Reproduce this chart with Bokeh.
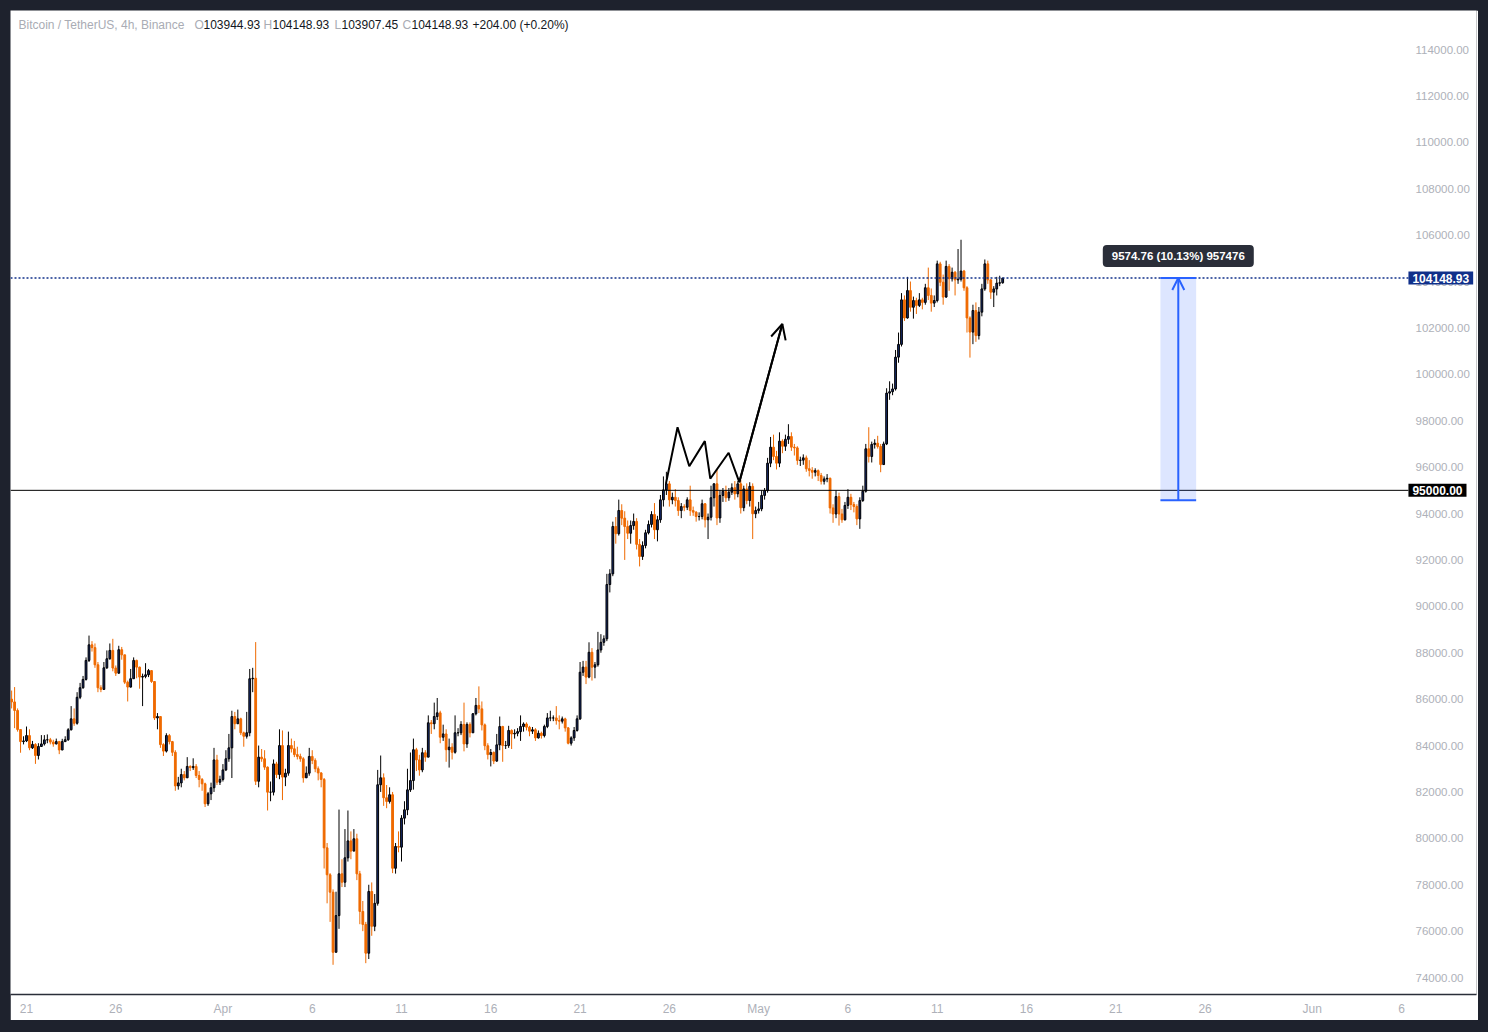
import pandas as pd
from bokeh.plotting import figure
from bokeh.models import (Range1d, FixedTicker, NumeralTickFormatter, Label,
                          Arrow, OpenHead, ColumnDataSource)
from bokeh.embed import file_html
from bokeh.resources import INLINE

# ---------------- data ----------------
symbol_title = "Bitcoin / TetherUS, 4h, Binance"
first_time = "2025-03-20 04:00"
first_open = 86000
closes = [
    85880, 85510, 84690, 84170, 84200, 84430, 83900, 84050, 83570, 83960,
    84070, 84245, 84250, 84150, 84070, 84170, 83810, 84170, 84250, 84680,
    85150, 84960, 86080, 86490, 86850, 87670, 88340, 88220, 87480, 86490,
    86420, 87350, 87740, 88100, 87340, 87120, 88130, 87910, 86730, 86520,
    86880, 87670, 87380, 86950, 86980, 87050, 87230, 86760, 85190, 85250,
    84040, 83760, 84430, 84170, 83710, 82260, 82390, 82750, 82610, 83100,
    83050, 83100, 82710, 82540, 82350, 81490, 81920, 82180, 83380, 82420,
    82540, 82950, 83430, 83900, 85250, 84940, 85150, 84550, 84400, 84550,
    86880, 86900, 82460, 83500, 83430, 83070, 81990, 81990, 83210, 82750,
    84000, 82640, 82810, 84000, 83860, 83610, 83530, 83430, 82610, 82810,
    83530, 83360, 83000, 82820, 82540, 79590, 78430, 77680, 75090, 76670,
    78470, 78110, 79160, 79890, 79450, 79980, 78470, 76850, 76290, 75050,
    77710, 76210, 77200, 82310, 82610, 81750, 81590, 81880, 78710, 79650,
    79620, 80870, 81230, 82090, 82490, 83820, 83380, 82950, 83690, 83500,
    84980, 84940, 85250, 85410, 84360, 84500, 83820, 83930, 83710, 84550,
    84550, 84910, 84070, 84910, 84550, 85370, 85730, 85580, 84890, 83990,
    83610, 83700, 83330, 84030, 84820, 84000, 84000, 84650, 84500, 84530,
    84600, 84820, 84930, 84790, 84620, 84680, 84330, 84530, 84430, 84820,
    85190, 85190, 85190, 85080, 85050, 85150, 84760, 84100, 84330, 84650,
    85150, 87160, 87380, 86950, 88020, 87380, 87480, 88120, 88450, 88600,
    90940, 91400, 93440, 93130, 94130, 93800, 93440, 93150, 93480, 93660,
    92670, 92150, 92620, 93170, 93530, 93960, 93300, 93730, 94590, 95020,
    95280, 94590, 94700, 94560, 94130, 94300, 94270, 94590, 94130, 94060,
    93870, 93870, 94420, 93730, 93840, 94680, 95280, 93810, 94780, 94960,
    94680, 94920, 95110, 94850, 95280, 94250, 95060, 94560, 95170, 93990,
    94130, 94200, 94780, 94990, 96170, 96860, 96460, 96170, 97120, 96900,
    97200, 97320, 96860, 96830, 96290, 96300, 96400, 95930, 95860, 95780,
    95850, 95640, 95390, 95490, 95520, 94240, 93980, 94730, 93980, 93730,
    94350, 94700, 94390, 94300, 93770, 94560, 94960, 96790, 96460, 96980,
    97030, 96890, 96110, 97000, 99190, 99250, 99370, 100740, 101290, 103210,
    102430, 103610, 102890, 103180, 102970, 103210, 103100, 103730, 103400, 103070,
    103180, 104760, 103970, 103330, 104650, 104120, 104400, 104070, 104100, 104450,
    103730, 102430, 101820, 102750, 101670, 102680, 103680, 104760, 104070, 103540,
    103680, 103930, 103944.93, 104148.93,
]
highs = [
    86370, 86520, 85600, 84700, 84400, 84820, 84700, 84200, 84100, 84100,
    84450, 84450, 84480, 84330, 84250, 84300, 84200, 84290, 84400, 84750,
    85700, 85600, 86300, 86700, 87000, 87800, 88740, 88500, 88400, 87600,
    86600, 87600, 88100, 88400, 88600, 87450, 88300, 88250, 87900, 86800,
    87300, 87800, 87700, 87400, 87100, 87550, 87300, 87250, 86760, 85400,
    85250, 84100, 84530, 84500, 84200, 83800, 82650, 83000, 82900, 83500,
    83150, 83450, 83200, 82900, 82600, 82400, 82000, 82400, 83900, 83600,
    82700, 83200, 83800, 84500, 85500, 85450, 85550, 85200, 84600, 85450,
    87300, 87350, 88460, 84000, 83850, 83800, 83100, 82450, 83400, 83300,
    84700, 84650, 83000, 84600, 84300, 84200, 83950, 83650, 83500, 83100,
    83900, 83800, 83450, 83100, 82850, 82600, 79800, 78500, 77800, 77700,
    81240, 79100, 80400, 81200, 80300, 80400, 80200, 78600, 77300, 76400,
    78000, 78100, 77600, 82950, 83570, 82800, 82300, 82200, 82000, 79800,
    80300, 81000, 81600, 83000, 83700, 84300, 83900, 83600, 83900, 83800,
    85300, 85100, 85850, 86050, 85500, 84900, 84700, 84300, 84100, 85300,
    84750, 85050, 85850, 85000, 85000, 85400, 86050, 86550, 85900, 84950,
    84100, 83850, 83750, 84500, 85250, 84850, 84200, 84850, 84700, 84700,
    84750, 85300, 85000, 85000, 84850, 84800, 84750, 84650, 84600, 84900,
    85400, 85500, 85300, 85700, 85300, 85250, 85200, 84800, 84400, 84800,
    85300, 87600, 87650, 87650, 88450, 88200, 87600, 88900, 88800, 88750,
    91400, 91600, 93650, 93850, 94600, 94400, 94100, 93700, 93700, 94000,
    93800, 92900, 92800, 93300, 93700, 94100, 94450, 93900, 94800, 95600,
    95800, 95400, 94900, 95050, 94700, 94450, 94400, 94700, 95200, 94300,
    94100, 94050, 94600, 94450, 94000, 95200, 95300, 95900, 95000, 95100,
    95200, 95100, 95300, 95400, 95400, 95450, 95200, 95300, 95350, 95300,
    94300, 94500, 95000, 95100, 96400, 97300, 97400, 96700, 97500, 97200,
    97400, 97850, 97500, 97000, 96900, 96450, 96550, 96500, 96300, 96000,
    95950, 95900, 95750, 95600, 95700, 95550, 94400, 95000, 94900, 94200,
    94500, 95050, 94850, 94500, 94400, 94700, 95200, 97000, 97720, 97100,
    97200, 97350, 97000, 97100, 99400, 99700, 99600, 101050, 101800, 103500,
    103400, 104200, 104000, 103350, 103300, 103500, 103300, 103900, 104600, 103700,
    103400, 104900, 104850, 104300, 104900, 104750, 104600, 104450, 105400, 105800,
    104500, 103800, 102500, 103000, 103100, 102900, 103900, 104950, 104900, 104100,
    103800, 104200, 104250, 104148.93,
]
lows = [
    85600, 84750, 84600, 83690, 84050, 84150, 83800, 83850, 83210, 83400,
    83950, 84000, 84100, 84050, 83950, 84050, 83630, 83800, 84150, 84200,
    84650, 84850, 84900, 86000, 86450, 86800, 87600, 88050, 87350, 86300,
    86300, 86400, 87300, 87700, 87200, 87000, 87100, 87700, 86650, 85900,
    86500, 86900, 86900, 86450, 85700, 86900, 86950, 86700, 85100, 84700,
    83900, 83550, 83700, 84050, 83550, 82050, 82100, 82200, 82500, 82600,
    82900, 82950, 82600, 82200, 82050, 81350, 81400, 81650, 82000, 82300,
    82300, 82450, 82900, 83300, 82600, 84700, 84950, 84450, 83950, 84300,
    84400, 86300, 82300, 82200, 83300, 82950, 81200, 81600, 81850, 82600,
    82550, 81650, 82250, 82700, 83700, 83500, 83400, 83300, 82400, 82600,
    82700, 83200, 82850, 82500, 82200, 78700, 77200, 76400, 74550, 75600,
    76100, 77900, 77900, 79000, 79100, 79500, 78200, 76300, 76000, 74620,
    74800, 75800, 76000, 77100, 82000, 81400, 81300, 81500, 78500, 78480,
    79400, 79000, 80600, 81000, 82000, 82100, 82900, 82700, 82850, 83300,
    83500, 84500, 84700, 85100, 84100, 84200, 83300, 83050, 83400, 83650,
    84400, 84450, 83750, 83900, 84350, 84550, 85300, 85400, 84650, 83800,
    83400, 83100, 83200, 83300, 83800, 83300, 83850, 83900, 83850, 84300,
    84400, 84200, 84600, 84650, 84400, 84500, 84200, 84300, 84300, 84350,
    84750, 85050, 85050, 84900, 84700, 84950, 84600, 84050, 84000, 84200,
    84600, 85100, 87000, 86650, 86900, 86800, 86900, 87400, 88000, 88300,
    88500, 90600, 91300, 92700, 93050, 93500, 92000, 92900, 92700, 93300,
    92450, 91720, 92000, 92500, 93100, 93400, 92900, 92800, 93600, 94300,
    94800, 94300, 94400, 94300, 93900, 93800, 94100, 94150, 93900, 93900,
    93650, 93700, 93750, 93400, 92900, 93700, 94300, 93500, 93600, 94500,
    94500, 94550, 94800, 94600, 94700, 94000, 94100, 94400, 94300, 92900,
    93800, 94000, 94100, 94600, 94900, 96000, 96300, 95900, 96000, 96600,
    96700, 97000, 96700, 96500, 96100, 96050, 96100, 95800, 95600, 95500,
    95600, 95400, 95250, 95250, 95350, 94000, 93600, 93800, 93480, 93600,
    93700, 94200, 94150, 94050, 93500, 93340, 94500, 94900, 96200, 96200,
    96800, 96800, 95780, 96100, 96950, 98900, 99100, 99300, 100500, 101200,
    102300, 102400, 102700, 102400, 102600, 102900, 102800, 103000, 103200, 102700,
    102900, 103100, 103800, 103000, 103300, 103600, 104000, 103400, 103900, 104000,
    103600, 101800, 100720, 101300, 101400, 101500, 102500, 103600, 103900, 103250,
    102900, 103400, 103800, 103907.45,
]
level_price = 95000.0
meas_change = 9574.76
meas_pct = 10.13
meas_ticks = 957476
meas_left = "2025-05-23 12:00"
meas_right = "2025-05-25 12:00"
zigzag_times = ["2025-04-25 19:20", "2025-04-26 11:00", "2025-04-27 02:45", "2025-04-27 23:40",
                "2025-04-28 07:00", "2025-04-29 07:40", "2025-04-29 22:00"]
zigzag_prices = [95280, 97720, 96040, 97120, 95500, 96620, 95350]
arrow_tip_time = "2025-05-02 07:50"
arrow_tip_price = 102170
xtick_dates = ["2025-03-21", "2025-03-26", "2025-04-01", "2025-04-06", "2025-04-11", "2025-04-16",
               "2025-04-21", "2025-04-26", "2025-05-01", "2025-05-06", "2025-05-11", "2025-05-16",
               "2025-05-21", "2025-05-26", "2025-06-01", "2025-06-06"]
xtick_labels = ["21", "26", "Apr", "6", "11", "16", "21", "26", "May", "6", "11", "16", "21", "26", "Jun", "6"]
ytick_values = [74000, 76000, 78000, 80000, 82000, 84000, 86000, 88000, 90000, 92000, 94000,
                96000, 98000, 100000, 102000, 104000, 106000, 108000, 110000, 112000, 114000]

# ---------------- styles / layout ----------------
UP_FILL = "#172c6e"
UP_LINE = "#000000"
DN_FILL = "#ef6a00"
DN_LINE = "#ef6a00"
AX_TXT = "#aeb1b9"
FONT = "Liberation Sans"
BLUE = "#2962ff"
NAVY = "#10308a"
VIEW_START = "2025-03-20 02:29"
VIEW_END = "2025-06-10 04:48"
PANE_END = "2025-06-06 09:20"   # where the price scale begins


def ms(ts):
    return pd.Timestamp(ts).value / 1e6


times = pd.date_range(first_time, periods=len(closes), freq="4h")
xs = [t.value / 1e6 for t in times]
opens = [first_open] + closes[:-1]
period = 4 * 3600 * 1000

up = dict(x=[], top=[], bottom=[], h=[], l=[])
dn = dict(x=[], top=[], bottom=[], h=[], l=[])
for x, o, h, l, c in zip(xs, opens, highs, lows, closes):
    d = up if c >= o else dn
    d["x"].append(x)
    d["top"].append(max(o, c))
    d["bottom"].append(min(o, c))
    d["h"].append(max(h, o, c))
    d["l"].append(min(l, o, c))

p = figure(width=1468, height=1010, x_axis_type="datetime", y_axis_location="right",
           x_range=Range1d(ms(VIEW_START), ms(VIEW_END)),
           y_range=Range1d(73270, 115681),
           output_backend="svg", toolbar_location=None, title=None,
           min_border=0)
p.min_border_right = 2
p.min_border_bottom = 26
p.margin = (10, 10, 10, 10)
p.background_fill_color = "white"
p.border_fill_color = "white"
p.outline_line_color = None
p.xgrid.visible = False
p.ygrid.visible = False

# x axis
p.xaxis.ticker = FixedTicker(ticks=[ms(d) for d in xtick_dates])
p.xaxis.major_label_overrides = {ms(d): lab for d, lab in zip(xtick_dates, xtick_labels)}
p.xaxis.axis_line_color = "#2a2e39"
p.xaxis.axis_line_width = 1.5
p.xaxis.major_tick_line_color = None
p.xaxis.minor_tick_line_color = None
p.xaxis.major_label_text_color = AX_TXT
p.xaxis.major_label_text_font = FONT
p.xaxis.major_label_text_font_size = "12px"
p.xaxis.major_label_standoff = 1

# y axis (labels drawn inside the price-scale strip)
p.yaxis.ticker = FixedTicker(ticks=ytick_values)
p.yaxis.formatter = NumeralTickFormatter(format="0.00")
p.yaxis.axis_line_color = None
p.yaxis.major_tick_line_color = None
p.yaxis.minor_tick_line_color = None
p.yaxis.major_tick_out = 0
p.yaxis.major_label_text_color = AX_TXT
p.yaxis.major_label_text_font = FONT
p.yaxis.major_label_text_font_size = "11.5px"
p.yaxis.major_label_standoff = -61

# candles
src_up = ColumnDataSource(up)
src_dn = ColumnDataSource(dn)
p.segment(x0="x", y0="h", x1="x", y1="l", source=src_up, line_color=UP_LINE, line_width=1)
p.segment(x0="x", y0="h", x1="x", y1="l", source=src_dn, line_color=DN_LINE, line_width=1)
p.vbar(x="x", width=0.6 * period, top="top", bottom="bottom", source=src_up,
       fill_color=UP_FILL, line_color=UP_LINE, line_width=1)
p.vbar(x="x", width=0.6 * period, top="top", bottom="bottom", source=src_dn,
       fill_color=DN_FILL, line_color=DN_LINE, line_width=1)

# horizontal level & last price line (stop where the price scale starts)
last_price = closes[-1]
xa, xb = ms(VIEW_START), ms(PANE_END)
p.segment(x0=[xa], x1=[xb], y0=[level_price], y1=[level_price], line_color="black", line_width=1)
p.segment(x0=[xa], x1=[xb], y0=[last_price], y1=[last_price], line_color=NAVY,
          line_width=1.5, line_dash="2 2")

p.add_layout(Label(x=xb, y=level_price, text=f"{level_price:.2f}", text_color="white",
                   text_font=FONT, text_font_size="12px", text_font_style="bold",
                   text_baseline="middle", text_align="left",
                   background_fill_color="black",
                   padding=dict(left=4, right=4, top=2, bottom=2)))
p.add_layout(Label(x=xb, y=last_price, text=f"{last_price:.2f}", text_color="white",
                   text_font=FONT, text_font_size="12px", text_font_style="bold",
                   text_baseline="middle", text_align="left",
                   background_fill_color=NAVY,
                   padding=dict(left=4, right=4, top=2, bottom=2)))

# hand-drawn zigzag with arrow
zx = [ms(t) for t in zigzag_times]
p.line(zx + [ms(arrow_tip_time)], zigzag_prices + [arrow_tip_price], line_color="black",
       line_width=2)
p.add_layout(Arrow(end=OpenHead(size=15, line_color="black", line_width=2),
                   x_start=zx[-1], y_start=zigzag_prices[-1],
                   x_end=ms(arrow_tip_time), y_end=arrow_tip_price,
                   line_color="black", line_width=2))

# price range measurement
m_top = last_price
m_bot = last_price - meas_change
ml, mr = ms(meas_left), ms(meas_right)
mid = (ml + mr) / 2
p.quad(left=[ml], right=[mr], top=[m_top], bottom=[m_bot], fill_color=BLUE, fill_alpha=0.16,
       line_color=None)
p.segment(x0=[ml, ml], x1=[mr, mr], y0=[m_bot, m_top], y1=[m_bot, m_top], line_color=BLUE,
          line_width=2)
p.add_layout(Arrow(end=OpenHead(size=12, line_color=BLUE, line_width=2),
                   x_start=mid, y_start=m_bot, x_end=mid, y_end=m_top,
                   line_color=BLUE, line_width=2))
p.add_layout(Label(x=mid, y=m_top, y_offset=22,
                   text=f"{meas_change:.2f} ({meas_pct:.2f}%) {meas_ticks}",
                   text_color="white", text_font=FONT, text_font_size="11.5px",
                   text_font_style="bold", text_align="center", text_baseline="middle",
                   background_fill_color="#2a2e39", border_radius=4,
                   padding=dict(left=9, right=9, top=5, bottom=5)))

# header legend
o_l, h_l, l_l, c_l = opens[-1], highs[-1], lows[-1], closes[-1]
chg = c_l - o_l
GRAY_T = "#a9acb4"
DARK_T = "#131722"
header_parts = [
    (symbol_title, GRAY_T, 8),
    ("O", GRAY_T, 184), (f"{o_l:.2f}", DARK_T, 193),
    ("H", GRAY_T, 253), (f"{h_l:.2f}", DARK_T, 262),
    ("L", GRAY_T, 324), (f"{l_l:.2f}", DARK_T, 331),
    ("C", GRAY_T, 392), (f"{c_l:.2f}", DARK_T, 401),
    (f"{chg:+.2f} ({chg / o_l * 100:+.2f}%)", DARK_T, 462),
]
for txt, col, px in header_parts:
    p.add_layout(Label(x=px, y=970, x_units="screen", y_units="screen", text=txt,
                       text_color=col, text_font=FONT, text_font_size="12px",
                       text_baseline="middle", text_align="left"))

html = file_html(p, INLINE, title="BTCUSDT 4h")
html = html.replace("<head>", "<head><style>html,body{background:#1e222d;}</style>", 1)
open("out.html", "w").write(html)
